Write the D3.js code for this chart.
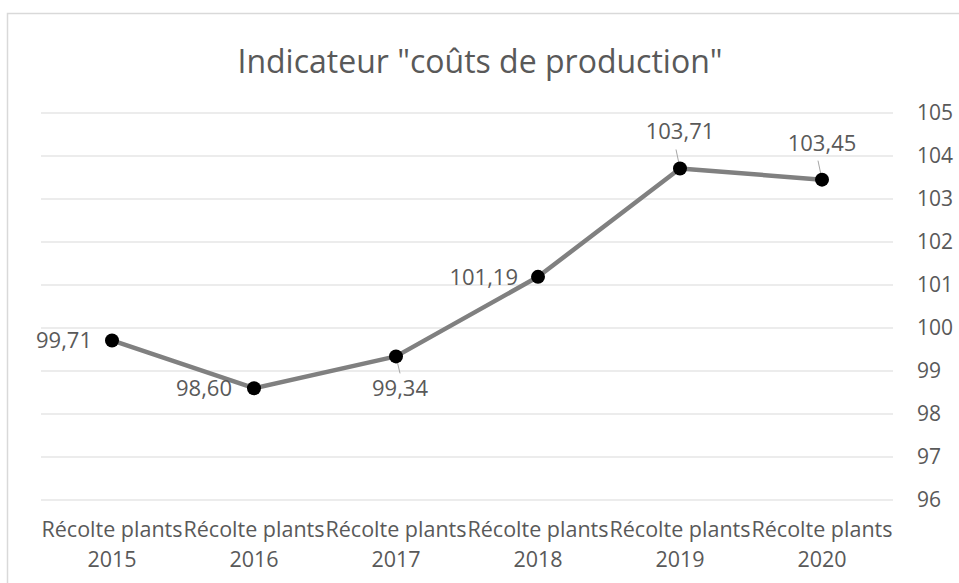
<!DOCTYPE html>
<html><head><meta charset="utf-8">
<script src="https://cdn.jsdelivr.net/npm/d3@7"></script>
<style>
body{margin:0;background:#fff;}
text{font-family:"Open Sans",sans-serif;fill:#595959;}
</style></head>
<body><svg id="c" width="959" height="583"></svg>
<script>
const title = 'Indicateur "coûts de production"';
const categories = ["Récolte plants 2015","Récolte plants 2016","Récolte plants 2017","Récolte plants 2018","Récolte plants 2019","Récolte plants 2020"];
const values = [99.71, 98.60, 99.34, 101.19, 103.71, 103.45];
const yTicks = [96,97,98,99,100,101,102,103,104,105];
// label placement: position of each data label relative to point
const labelPos = ["left","left-below","below","left","above","above"];

const svg = d3.select("#c");
svg.append("rect").attr("x",7.5).attr("y",13.5).attr("width",960).attr("height",580)
  .attr("fill","#fff").attr("stroke","#d9d9d9").attr("stroke-width",1.5);

svg.append("text").attr("x",480).attr("y",73).attr("text-anchor","middle")
  .style("font-size","32px").text(title);

const x = d3.scaleBand().domain(categories).range([41,893]);
const y = d3.scaleLinear().domain([96,105]).range([500,113]);

const grid = svg.append("g");
grid.selectAll("line").data(yTicks).join("line")
  .attr("x1",41).attr("x2",893).attr("y1",d=>y(d)).attr("y2",d=>y(d))
  .attr("stroke","#d9d9d9").attr("stroke-width",1);

const yAxis = d3.axisRight(y).tickValues(yTicks).tickSize(0).tickPadding(0).tickFormat(d3.format("d"));
const ya = svg.append("g").attr("transform","translate(917,0)").call(yAxis);
ya.select(".domain").remove();
ya.selectAll("text").style("font-size","21px").attr("fill","#595959").attr("dy","0.32em");

const xAxis = d3.axisBottom(x).tickSize(0).tickFormat("");
const xa = svg.append("g").attr("transform","translate(0,500)").call(xAxis);
xa.select(".domain").remove();
xa.selectAll(".tick").each(function(d){
  const t = d3.select(this).append("text").attr("text-anchor","middle").style("font-size","21.5px").attr("fill","#595959");
  const parts = d.split(" ");
  t.append("tspan").attr("x",0).attr("y",37).text(parts[0]+" "+parts[1]);
  t.append("tspan").attr("x",0).attr("y",67).text(parts[2]);
});

const cx = (d,i)=>x(categories[i])+x.bandwidth()/2;
const line = d3.line().x((d,i)=>cx(d,i)).y(d=>y(d));
svg.append("path").datum(values).attr("d",line).attr("fill","none")
  .attr("stroke","#808080").attr("stroke-width",4.5).attr("stroke-linejoin","round");

const fmt = v => d3.format(".2f")(v).replace(".",",");
values.forEach((v,i)=>{
  const px = cx(v,i), py = y(v);
  const pos = labelPos[i];
  let tx=px, ty=py, anchor="middle", lead=null;
  if(pos==="left"){tx=px-20; ty=py+8; anchor="end";}
  if(pos==="left-below"){tx=px-22; ty=py+8; anchor="end";}
  if(pos==="below"){tx=px+4; ty=py+40; lead=[px,py,px+4,py+17];}
  if(pos==="above"){tx=px; ty=py-29; lead=[px-4,py-19,px,py];}
  if(lead) svg.append("line").attr("x1",lead[0]).attr("y1",lead[1]).attr("x2",lead[2]).attr("y2",lead[3])
     .attr("stroke","#a6a6a6").attr("stroke-width",1);
  svg.append("text").attr("x",tx).attr("y",ty).attr("text-anchor",anchor).style("font-size","22px").text(fmt(v));
});
svg.append("g").selectAll("circle").data(values).join("circle")
  .attr("cx",(d,i)=>cx(d,i)).attr("cy",d=>y(d)).attr("r",7).attr("fill","#000");
</script></body></html>
